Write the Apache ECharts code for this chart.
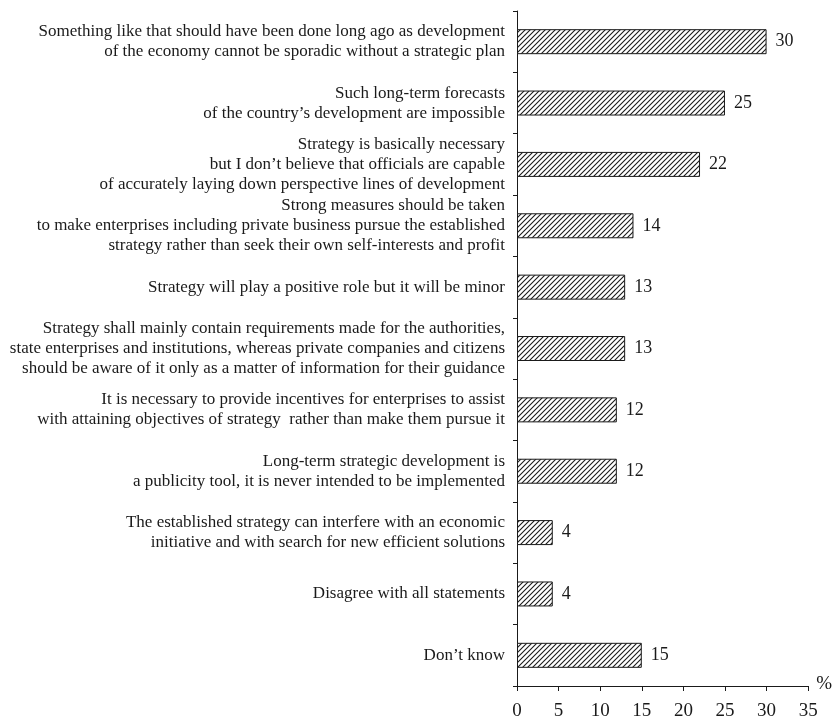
<!DOCTYPE html>
<html>
<head>
<meta charset="utf-8">
<script src="https://cdn.jsdelivr.net/npm/echarts@6/dist/echarts.min.js"></script>
<style>
html,body{margin:0;padding:0;background:#fff;}
#chart{width:835px;height:721px;}
</style>
</head>
<body>
<div id="chart"></div>
<script>
const categories = [
  "Something like that should have been done long ago as development\nof the economy cannot be sporadic without a strategic plan",
  "Such long-term forecasts\nof the country\u2019s development are impossible",
  "Strategy is basically necessary\nbut I don\u2019t believe that officials are capable\nof accurately laying down perspective lines of development",
  "Strong measures should be taken\nto make enterprises including private business pursue the established\nstrategy rather than seek their own self-interests and profit",
  "Strategy will play a positive role but it will be minor",
  "Strategy shall mainly contain requirements made for the authorities,\nstate enterprises and institutions, whereas private companies and citizens\nshould be aware of it only as a matter of information for their guidance",
  "It is necessary to provide incentives for enterprises to assist\nwith attaining objectives of strategy  rather than make them pursue it",
  "Long-term strategic development is\na publicity tool, it is never intended to be implemented",
  "The established strategy can interfere with an economic\ninitiative and with search for new efficient solutions",
  "Disagree with all statements",
  "Don\u2019t know"
];
const values = [30, 25, 22, 14, 13, 13, 12, 12, 4.3, 4.3, 15];
const xTicks = [0, 5, 10, 15, 20, 25, 30, 35];
const unitLabel = "%";

// hatch pattern "/"
function makeHatch() {
  const s = 5;
  const c = document.createElement('canvas');
  c.width = s; c.height = s;
  const g = c.getContext('2d');
  g.fillStyle = '#fff';
  g.fillRect(0, 0, s, s);
  g.strokeStyle = '#1a1a1a';
  g.lineWidth = 1.1;
  g.beginPath();
  g.moveTo(-1, s + 1); g.lineTo(s + 1, -1);
  g.moveTo(-1, 1); g.lineTo(1, -1);
  g.moveTo(s - 1, s + 1); g.lineTo(s + 1, s - 1);
  g.stroke();
  return c;
}

const font = "'Liberation Serif', 'Times New Roman', serif";
const ink = '#1a1a1a';
const chart = echarts.init(document.getElementById('chart'));
chart.setOption({
  animation: false,
  backgroundColor: '#fff',
  grid: { left: 517, right: 26, top: 11, bottom: 33, containLabel: false },
  xAxis: {
    type: 'value',
    min: xTicks[0],
    max: xTicks[xTicks.length - 1],
    interval: 5,
    name: unitLabel,
    nameLocation: 'end',
    nameGap: 8,
    nameTextStyle: { fontFamily: font, fontSize: 19, color: ink, verticalAlign: 'bottom', padding: [0, 0, -8, 0] },
    axisLine: { show: true, lineStyle: { color: ink, width: 1 } },
    axisTick: { show: true, inside: false, length: 5, lineStyle: { color: ink } },
    axisLabel: { fontFamily: font, fontSize: 19, color: ink, margin: 16 },
    splitLine: { show: false }
  },
  yAxis: {
    type: 'category',
    inverse: true,
    data: categories,
    axisLine: { show: true, lineStyle: { color: ink, width: 1 } },
    axisTick: { show: true, inside: false, length: 4, alignWithLabel: false, lineStyle: { color: ink } },
    axisLabel: { fontFamily: font, fontSize: 17, lineHeight: 20, color: ink, margin: 12, align: 'right' }
  },
  series: [{
    type: 'bar',
    data: values,
    barWidth: 25,
    itemStyle: {
      color: { image: makeHatch(), repeat: 'repeat' },
      borderColor: ink,
      borderWidth: 1
    },
    label: {
      show: true,
      position: 'right',
      distance: 9,
      fontFamily: font,
      fontSize: 18,
      color: ink,
      formatter: p => String(Math.round(p.value))
    }
  }]
});
</script>
</body>
</html>
